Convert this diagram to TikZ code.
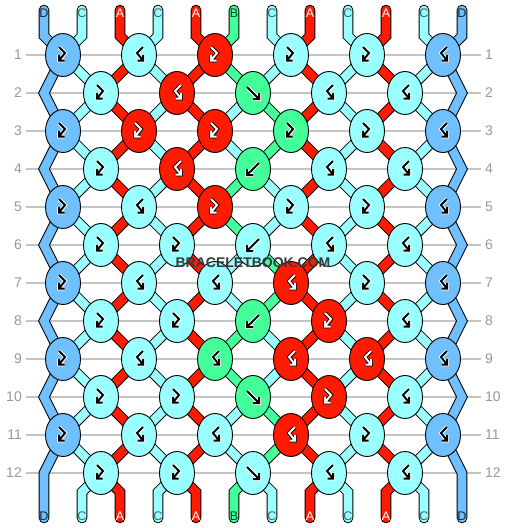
\documentclass[tikz,border=0pt]{standalone}
\usepackage{fontspec}
\setmainfont{Liberation Sans}
\usetikzlibrary{shapes.geometric}

\definecolor{strA}{HTML}{FF1A00}
\definecolor{strB}{HTML}{44FF99}
\definecolor{strC}{HTML}{99FFFF}
\definecolor{strD}{HTML}{70C0FF}
\definecolor{rulegray}{HTML}{C4C4C4}
\definecolor{numgray}{HTML}{999999}

\pgfdeclarelayer{rules}
\pgfdeclarelayer{strands}
\pgfsetlayers{rules,strands,main}

\tikzset{
  knot/.style={ellipse, draw, line width=0.9pt, fill=str#1,
    minimum width=35pt, minimum height=43pt, inner sep=0pt},
  strand/.style={draw=black, double=str#1, double distance=8.6pt,
    line width=1pt, line cap=round},
  inkA/.style={draw=black, double=white, double distance=2pt, line width=0.9pt},
  inkB/.style={draw=white, double=black, double distance=2pt, line width=0.9pt},
  inkC/.style={inkB}, inkD/.style={inkB},
  pics/kfb/.style={code={\draw[#1] (-4,-8) -- (2,-2) -- (-4,5.5) (-4,0) -- (-4,5.5) -- (1.5,5.5);}},
  pics/kbf/.style={code={\draw[#1] (4,-8) -- (-2,-2) -- (4,5.5) (4,0) -- (4,5.5) -- (-1.5,5.5);}},
  pics/kf/.style={code={\draw[#1] (-6,-6) -- (6,6) (0,6) -- (6,6) -- (6,0);}},
  pics/kb/.style={code={\draw[#1] (6,-6) -- (-6,6) (0,6) -- (-6,6) -- (-6,0);}},
  rownum/.style={text=numgray, font=\fontsize{14}{14}\selectfont, inner sep=4pt},
  strlabel/.style={font=\fontsize{12.5}{12.5}\selectfont, inner sep=0pt},
  lblA/.style={text=white},
  lblB/.style={text=strB!25!black},
  lblC/.style={text=strC!40!black},
  lblD/.style={text=strD!20!black},
}

\begin{document}
\begin{tikzpicture}[x=1pt, y=-1pt]
  \useasboundingbox (0,0) rectangle (506,528);
  \begin{pgfonlayer}{rules}
    \fill[white] (0,0) rectangle (506,528);
  \end{pgfonlayer}
  % string ends, top and bottom
  \foreach \col [count=\i] in {D,C,A,C,A,B,C,A,C,A,C,D} {
    \pgfmathsetmacro\sx{44+38*(\i-1)}
    \coordinate (top\i) at (\sx,10);
    \coordinate (tbend\i) at (\sx,36);
    \coordinate (bbend\i) at (\sx,492);
    \coordinate (bot\i) at (\sx,518);
    \node[strlabel, lbl\col] (tl\i) at (\sx,13.5) {\col};
    \node[strlabel, lbl\col] (bl\i) at (\sx,516) {\col};
  }
  % turns of the edge strings
  \foreach \rw in {2,4,...,12} {
    \pgfmathsetmacro\ry{55+38*(\rw-1)}
    \coordinate (zl\rw) at (44,\ry);
    \coordinate (zr\rw) at (462,\ry);
  }
  % row numbers and rules
  \foreach \rw in {1,...,12} {
    \pgfmathsetmacro\ry{55+38*(\rw-1)}
    \node[rownum, anchor=east] (ln\rw) at (26,\ry) {\rw};
    \node[rownum, anchor=west] (rn\rw) at (481,\ry) {\rw};
    \begin{pgfonlayer}{rules}
      \draw[rulegray, line width=1.3pt] (ln\rw) -- (rn\rw);
    \end{pgfonlayer}
  }
  % knots: row/knot/colour/kind
  \foreach \rw/\kn/\col/\kind in {
      1/1/D/kfb, 1/2/C/kbf, 1/3/A/kfb, 1/4/C/kfb, 1/5/C/kfb, 1/6/D/kbf,
      2/1/C/kfb, 2/2/A/kbf, 2/3/B/kf, 2/4/C/kbf, 2/5/C/kbf,
      3/1/D/kfb, 3/2/A/kfb, 3/3/A/kfb, 3/4/B/kfb, 3/5/C/kfb, 3/6/D/kbf,
      4/1/C/kfb, 4/2/A/kbf, 4/3/B/kb, 4/4/C/kbf, 4/5/C/kbf,
      5/1/D/kfb, 5/2/C/kbf, 5/3/A/kfb, 5/4/C/kfb, 5/5/C/kfb, 5/6/D/kbf,
      6/1/C/kfb, 6/2/C/kfb, 6/3/C/kb, 6/4/C/kbf, 6/5/C/kbf,
      7/1/D/kfb, 7/2/C/kbf, 7/3/C/kbf, 7/4/A/kbf, 7/5/C/kfb, 7/6/D/kbf,
      8/1/C/kfb, 8/2/C/kfb, 8/3/B/kb, 8/4/A/kfb, 8/5/C/kbf,
      9/1/D/kfb, 9/2/C/kbf, 9/3/B/kbf, 9/4/A/kbf, 9/5/A/kbf, 9/6/D/kbf,
      10/1/C/kfb, 10/2/C/kfb, 10/3/B/kf, 10/4/A/kfb, 10/5/C/kbf,
      11/1/D/kfb, 11/2/C/kbf, 11/3/C/kbf, 11/4/A/kbf, 11/5/C/kfb, 11/6/D/kbf,
      12/1/C/kfb, 12/2/C/kfb, 12/3/C/kf, 12/4/C/kbf, 12/5/C/kbf} {
    \pgfmathsetmacro\kx{63+76*(\kn-1)+38*(1-mod(\rw,2))}
    \pgfmathsetmacro\ky{55+38*(\rw-1)}
    \node[knot=\col] (k\rw-\kn) at (\kx,\ky) {};
    \pic at (k\rw-\kn) {\kind=ink\col};
  }
  \begin{pgfonlayer}{strands}
    % edge strings
    \draw[strand=D] (top1) -- (tbend1)
      \foreach \a/\b in {1/2,3/4,5/6,7/8,9/10,11/12} {-- (k\a-1.center) -- (zl\b)} -- (bot1);
    \draw[strand=D] (top12) -- (tbend12)
      \foreach \a/\b in {1/2,3/4,5/6,7/8,9/10,11/12} {-- (k\a-6.center) -- (zr\b)} -- (bot12);
    % strings that keep their place
    \foreach \p/\o/\e/\col in {2/1/1/C, 3/2/1/A, 4/2/2/C, 5/3/2/A,
                               8/4/4/A, 9/5/4/C, 10/5/5/A, 11/6/5/C}
      \draw[strand=\col] (top\p) -- (tbend\p)
        \foreach \a/\b in {1/2,3/4,5/6,7/8,9/10,11/12} {-- (k\a-\o.center) -- (k\b-\e.center)}
        -- (bbend\p) -- (bot\p);
    % the two middle strings
    \draw[strand=B] (top6) -- (tbend6) -- (k1-3.center) -- (k2-3.center) -- (k3-4.center)
      -- (k4-3.center) -- (k5-3.center) -- (k6-3.center) -- (k7-4.center) -- (k8-3.center)
      -- (k9-3.center) -- (k10-3.center) -- (k11-4.center) -- (k12-3.center) -- (bbend6) -- (bot6);
    \draw[strand=C] (top7) -- (tbend7) -- (k1-4.center) -- (k2-3.center) -- (k3-3.center)
      -- (k4-3.center) -- (k5-4.center) -- (k6-3.center) -- (k7-3.center) -- (k8-3.center)
      -- (k9-4.center) -- (k10-3.center) -- (k11-3.center) -- (k12-3.center) -- (bbend7) -- (bot7);
  \end{pgfonlayer}
  \node[font=\bfseries\fontsize{14}{14}\selectfont, text=black!78] (mark) at (253,263) {BRACELETBOOK.COM};
\end{tikzpicture}
\end{document}
